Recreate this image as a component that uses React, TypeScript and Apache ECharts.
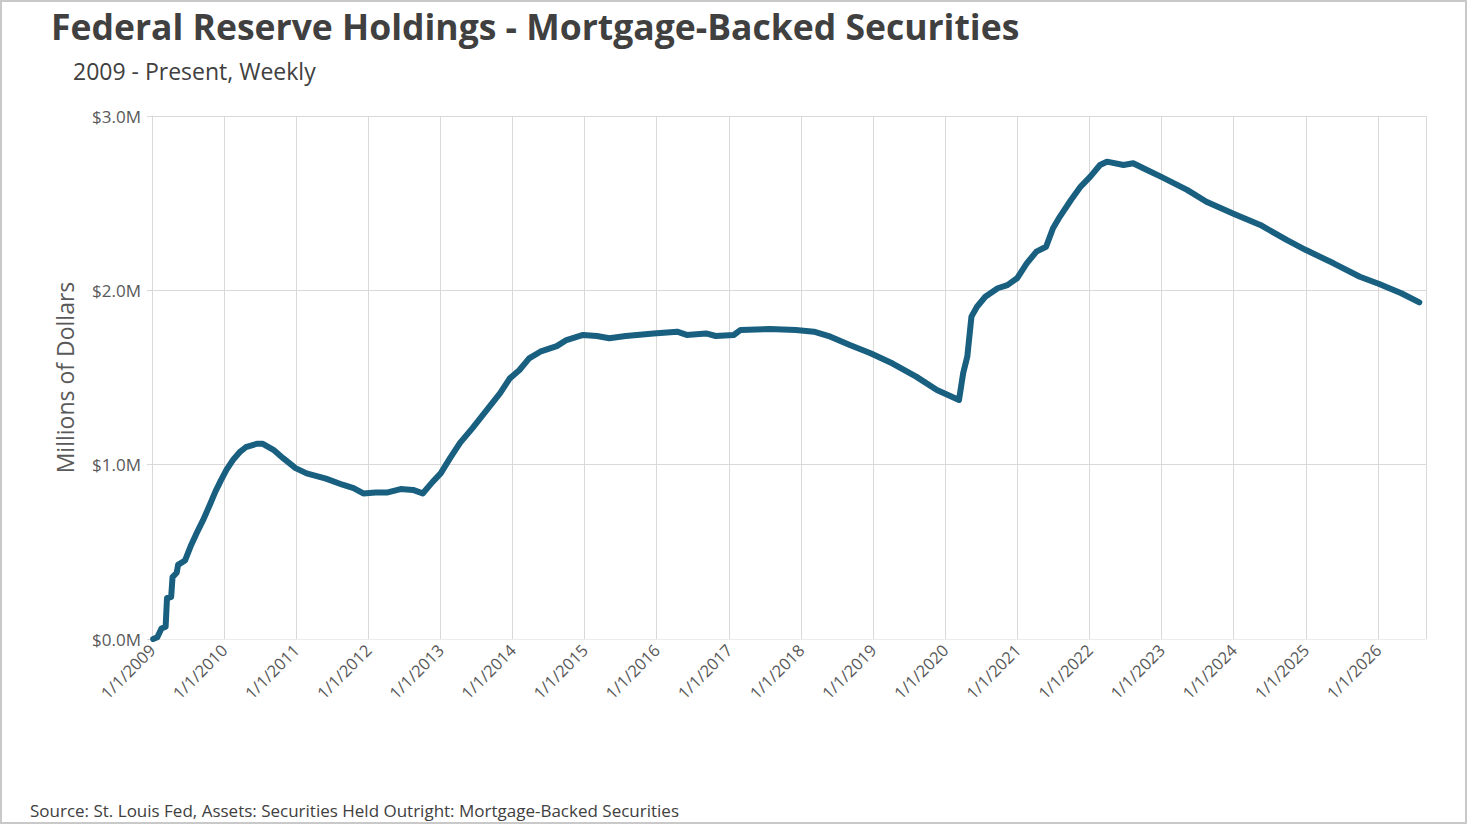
import React, { useEffect, useRef } from "react";
import * as echarts from "echarts";

const TITLE = "Federal Reserve Holdings - Mortgage-Backed Securities";
const SUBTITLE = "2009 - Present, Weekly";
const SOURCE = "Source: St. Louis Fed, Assets: Securities Held Outright: Mortgage-Backed Securities";
const Y_NAME = "Millions of Dollars";

const dates: string[] = [
  "2009-01-07", "2009-01-28", "2009-02-18", "2009-03-11", "2009-03-18", "2009-04-08", "2009-04-15",
  "2009-05-06", "2009-05-13", "2009-06-17", "2009-07-15", "2009-08-12", "2009-09-16", "2009-10-21",
  "2009-11-18", "2009-12-16", "2010-01-13", "2010-02-17", "2010-03-24", "2010-04-21", "2010-06-16",
  "2010-07-14", "2010-09-08", "2010-10-27", "2010-12-29", "2011-02-23", "2011-06-01", "2011-08-24",
  "2011-10-19", "2011-12-07", "2012-02-08", "2012-04-04", "2012-06-13", "2012-08-15", "2012-10-03",
  "2012-11-21", "2013-01-02", "2013-02-20", "2013-04-10", "2013-06-12", "2013-08-21", "2013-10-30",
  "2013-12-18", "2014-02-05", "2014-03-26", "2014-05-21", "2014-08-13", "2014-10-01", "2014-12-24",
  "2015-03-04", "2015-05-06", "2015-07-29", "2015-12-16", "2016-04-13", "2016-06-01", "2016-09-07",
  "2016-10-26", "2017-01-25", "2017-03-01", "2017-07-26", "2017-12-06", "2018-03-07", "2018-05-30",
  "2018-09-05", "2018-12-19", "2019-04-10", "2019-08-07", "2019-11-20", "2020-03-11", "2020-04-01",
  "2020-04-22", "2020-05-13", "2020-06-10", "2020-07-22", "2020-09-23", "2020-11-11", "2020-12-30",
  "2021-02-17", "2021-04-07", "2021-05-26", "2021-06-30", "2021-08-04", "2021-09-29", "2021-11-17",
  "2022-01-05", "2022-02-23", "2022-03-30", "2022-06-22", "2022-08-10", "2022-10-19", "2022-12-28",
  "2023-05-10", "2023-08-16", "2024-01-03", "2024-05-15", "2024-09-25", "2025-01-01", "2025-05-21",
  "2025-10-01", "2026-01-07", "2026-04-29", "2026-07-29",
];

// Millions of dollars
const mbsHoldings: number[] = [
  0, 10000, 60000, 70000, 235000, 240000, 355000,
  380000, 425000, 450000, 530000, 600000, 680000, 770000,
  845000, 910000, 970000, 1030000, 1075000, 1100000, 1120000,
  1120000, 1085000, 1037000, 980000, 950000, 920000, 885000,
  865000, 835000, 840000, 840000, 860000, 855000, 835000,
  900000, 950000, 1040000, 1125000, 1210000, 1310000, 1410000,
  1495000, 1543000, 1610000, 1648000, 1680000, 1715000, 1744000,
  1738000, 1725000, 1738000, 1753000, 1763000, 1744000, 1753000,
  1738000, 1744000, 1773000, 1778000, 1773000, 1763000, 1734000,
  1686000, 1639000, 1580000, 1505000, 1428000, 1371000, 1524000,
  1620000, 1849000, 1906000, 1963000, 2012000, 2030000, 2069000,
  2155000, 2222000, 2250000, 2356000, 2423000, 2518000, 2595000,
  2652000, 2719000, 2738000, 2719000, 2729000, 2690000, 2652000,
  2576000, 2508000, 2438000, 2375000, 2289000, 2231000, 2155000,
  2078000, 2036000, 1983000, 1931000,
];

const Y_MIN = 0;
const Y_MAX = 3000000;
const Y_INTERVAL = 1000000;
const X_MIN = "2009-01-01";
const X_MAX = "2026-09-01";

const FONT = "'Open Sans', 'Noto Sans', sans-serif";

export default function App() {
  const ref = useRef<HTMLDivElement>(null);
  useEffect(() => {
    if (!ref.current) return;
    const chart = echarts.init(ref.current, null, { renderer: "svg" });
    const DAY = 86400000;
    chart.setOption({
      animation: false,
      backgroundColor: "#ffffff",
      textStyle: { fontFamily: FONT },
      title: [
        {
          text: TITLE,
          left: 46,
          top: 3,
          textStyle: { fontFamily: FONT, fontSize: 35.5, fontWeight: "bold", color: "#404040" },
        },
        {
          text: SUBTITLE,
          left: 68,
          top: 54,
          textStyle: { fontFamily: FONT, fontSize: 23, fontWeight: "normal", color: "#404040" },
        },
        {
          text: SOURCE,
          left: 25,
          top: 797,
          textStyle: { fontFamily: FONT, fontSize: 17, fontWeight: "normal", color: "#404040" },
        },
      ],
      graphic: [
        {
          type: "rect",
          shape: { x: 1, y: 1, width: 1465, height: 822 },
          style: { fill: "none", stroke: "#c9c9c9", lineWidth: 2 },
          silent: true,
        },
      ],
      grid: { left: 152, right: 44, top: 116, bottom: 187, containLabel: false },
      xAxis: {
        type: "time",
        min: X_MIN,
        max: X_MAX,
        minInterval: 365 * DAY,
        maxInterval: 366 * DAY,
        axisLine: { show: true, lineStyle: { color: "#ececec", width: 1 } },
        axisTick: { show: false },
        splitLine: { show: true, lineStyle: { color: "#d9d9d9", width: 1 } },
        axisLabel: {
          rotate: 45,
          fontSize: 16.5,
          color: "#595959",
          fontFamily: FONT,
          margin: 8,
          showMaxLabel: false,
          hideOverlap: false,
          formatter: (val: number) => {
            const d = new Date(val);
            return `${d.getMonth() + 1}/${d.getDate()}/${d.getFullYear()}`;
          },
        },
      },
      yAxis: {
        type: "value",
        min: Y_MIN,
        max: Y_MAX,
        interval: Y_INTERVAL,
        name: Y_NAME,
        nameLocation: "middle",
        nameGap: 76,
        nameTextStyle: { fontSize: 23, color: "#595959", fontFamily: FONT },
        axisLine: { show: true, lineStyle: { color: "#d9d9d9", width: 1 } },
        axisTick: { show: true, length: 5, lineStyle: { color: "#d9d9d9" } },
        splitLine: { show: true, lineStyle: { color: "#d9d9d9", width: 1 } },
        axisLabel: {
          fontSize: 17,
          color: "#595959",
          fontFamily: FONT,
          margin: 11,
          formatter: (v: number) => `$${(v / 1000000).toFixed(1)}M`,
        },
      },
      series: [
        {
          type: "line",
          data: dates.map((d, i) => [d, mbsHoldings[i]]),
          showSymbol: false,
          symbol: "none",
          lineStyle: { color: "#185f80", width: 6, cap: "round", join: "round" },
          itemStyle: { color: "#185f80" },
        },
      ],
    });
    return () => chart.dispose();
  }, []);
  return (
    <div
      ref={ref}
      style={{ position: "fixed", left: 0, top: 0, width: 1470, height: 826, background: "#fff" }}
    />
  );
}
